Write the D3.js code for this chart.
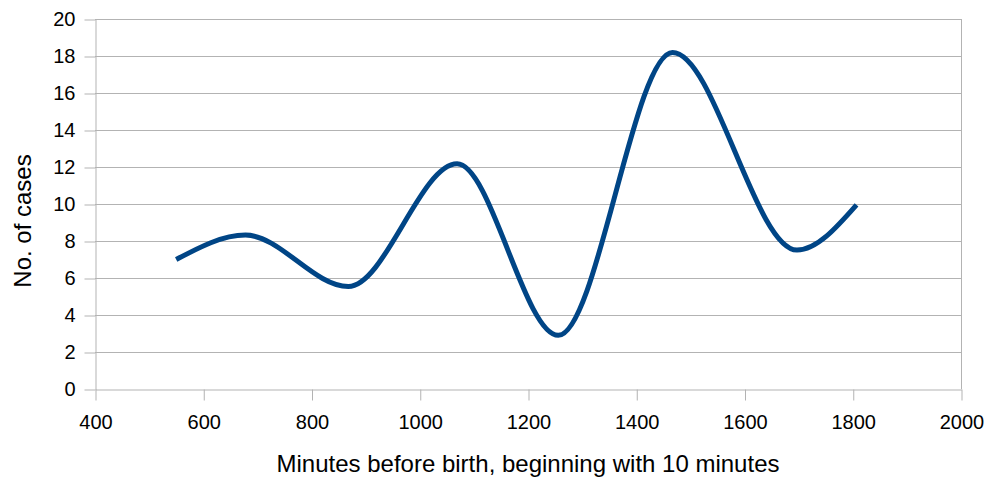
<!DOCTYPE html>
<html>
<head>
<meta charset="utf-8">
<script src="https://cdn.jsdelivr.net/npm/d3@7"></script>
<style>
body { margin: 0; background: #fff; }
text { font-family: "Liberation Sans", Arial, sans-serif; fill: #000; }
</style>
</head>
<body>
<svg id="canvas" width="988" height="478"></svg>
<script>
// values (turning points of the smoothed line)
var minutes = [550, 678, 868, 1069, 1256, 1467, 1697, 1807];
var cases = [7.0, 8.32, 5.54, 12.17, 2.9, 18.19, 7.51, 9.95];
var x_ticks = [400, 600, 800, 1000, 1200, 1400, 1600, 1800, 2000];
var y_ticks = [0, 2, 4, 6, 8, 10, 12, 14, 16, 18, 20];
var x_title = 'Minutes before birth, beginning with 10 minutes';
var y_title = 'No. of cases';

var padding = {top: 19, left: 95, right: 27, bottom: 89};
var grid_colour = '#b3b3b3';
var line_colour = '#004586';

draw_chart();

function draw_chart(){
    var canvas = d3.select('#canvas');
    var canvas_width = +canvas.attr('width');
    var canvas_height = +canvas.attr('height');

    var x_scale = d3.scaleLinear()
	.domain([400, 2000])
	.range([padding.left, canvas_width - padding.right]);
    var y_scale = d3.scaleLinear()
	.domain([0, 20])
	.range([canvas_height - padding.bottom, padding.top]);

    draw_grid(canvas, x_scale, y_scale);
    draw_axes(canvas, x_scale, y_scale);
    draw_line(canvas, x_scale, y_scale);
    draw_titles(canvas, x_scale, y_scale);
}

function draw_grid(canvas, x_scale, y_scale){
    var grid = canvas.append('g').attr('class', 'grid');
    grid.selectAll('line')
	.data(y_ticks.slice(1))
	.enter()
	.append('line')
	.attr('x1', x_scale.range()[0])
	.attr('x2', x_scale.range()[1])
	.attr('y1', function(d){return Math.round(y_scale(d)) + 0.5})
	.attr('y2', function(d){return Math.round(y_scale(d)) + 0.5})
	.attr('stroke', grid_colour)
	.attr('stroke-width', 1);
    // right border of the plot area
    grid.append('line')
	.attr('x1', Math.round(x_scale(2000)) + 0.5)
	.attr('x2', Math.round(x_scale(2000)) + 0.5)
	.attr('y1', y_scale(20))
	.attr('y2', y_scale(0))
	.attr('stroke', grid_colour);
}

function draw_axes(canvas, x_scale, y_scale){
    var x_axis = canvas.append('g')
	.attr('transform', 'translate(0.5,' + (Math.round(y_scale(0)) + 0.5) + ')')
	.call(d3.axisBottom(x_scale).tickValues(x_ticks).tickSize(11).tickPadding(14).tickSizeOuter(0).tickFormat(d3.format('d')));
    var y_axis = canvas.append('g')
	.attr('transform', 'translate(' + (Math.round(x_scale(400)) + 0.5) + ',0.5)')
	.call(d3.axisLeft(y_scale).tickValues(y_ticks).tickSize(11).tickPadding(9).tickSizeOuter(0).tickFormat(d3.format('d')));

    [x_axis, y_axis].forEach(function(ax){
	ax.select('.domain').attr('stroke', grid_colour);
	ax.selectAll('.tick line').attr('stroke', grid_colour);
	ax.selectAll('.tick text')
	    .attr('fill', '#000')
	    .style('font-size', '20px')
	    .style('font-family', '"Liberation Sans", Arial, sans-serif');
    });
}

function draw_line(canvas, x_scale, y_scale){
    var points = minutes.map(function(m, i){return {minutes: m, cases: cases[i]}});
    var line = d3.line()
	.x(function(d){return x_scale(d.minutes)})
	.y(function(d){return y_scale(d.cases)})
	.curve(d3.curveMonotoneX);
    canvas.append('path')
	.datum(points)
	.attr('d', line)
	.attr('fill', 'none')
	.attr('stroke', line_colour)
	.attr('stroke-width', 5);
}

function draw_titles(canvas, x_scale, y_scale){
    canvas.append('text')
	.attr('x', 528)
	.attr('y', 472)
	.attr('text-anchor', 'middle')
	.style('font-size', '24px')
	.text(x_title);
    canvas.append('text')
	.attr('transform', 'translate(31,221) rotate(-90)')
	.attr('text-anchor', 'middle')
	.style('font-size', '24px')
	.text(y_title);
}
</script>
</body>
</html>
